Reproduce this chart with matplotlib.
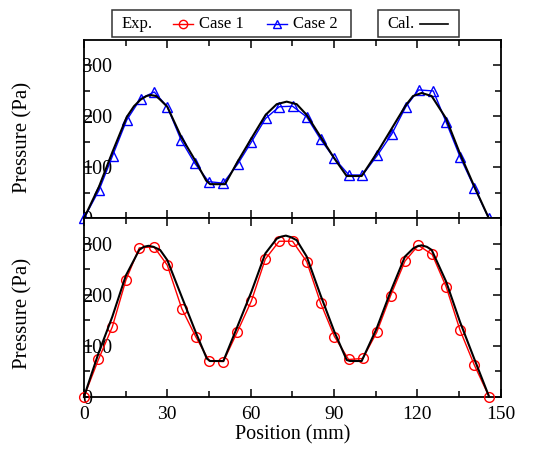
import matplotlib.pyplot as plt
from matplotlib.lines import Line2D
from matplotlib.patches import Rectangle

plt.rcParams['font.family'] = 'Liberation Serif'

# measured data, Case 2 (top panel)
x_case2 = [0, 5.4, 10.3, 15.4, 20.4, 25.3, 30.0, 35.0, 39.9, 44.9, 50.1, 55.3, 60.3, 65.4, 70.3,
           75.1, 80.2, 85.2, 90.1, 95.4, 100.3, 105.7, 110.8, 115.9, 120.5, 125.8, 130.4, 135.4, 140.6, 145.8]
y_case2 = [0, 55, 123, 193, 235, 248, 219, 153, 108, 72, 69, 106, 150, 196, 219,
           220, 199, 155, 118, 85, 85, 124, 165, 219, 252, 250, 189, 121, 60, 0]

# measured data, Case 1 (bottom panel)
x_case1 = [0, 5.2, 10.2, 15.1, 19.9, 25.2, 30.0, 35.2, 40.2, 45.1, 50.2, 55.2, 60.3, 65.3, 70.3,
           75.1, 80.2, 85.2, 90.2, 95.3, 100.4, 105.4, 110.4, 115.6, 120.4, 125.4, 130.4, 135.4, 140.5, 145.9]
y_case1 = [0, 73, 137, 229, 292, 294, 258, 173, 118, 70, 69, 127, 188, 270, 305,
           305, 265, 184, 118, 73, 75, 126, 198, 266, 297, 279, 216, 131, 63, 0]

# calculated curves
x_cal2 = [0, 5.4, 10.3, 15.4, 18, 20.4, 22.5, 24, 26, 27.4, 30, 35, 40, 44, 45.4, 50.8,
          55.3, 60.3, 65.4, 69.4, 73, 76.6, 80.2, 85.2, 90.1, 94.6, 100, 105.7, 110.8, 115.9,
          118.5, 121.6, 125.2, 130.4, 135.4, 140.6, 145.8]
y_cal2 = [0, 62, 131, 199, 220, 233, 240, 242, 240, 233, 219, 160, 114, 74, 67, 67,
          111, 157, 203, 224, 229, 224, 203, 160, 118, 83, 83, 130, 176, 222,
          240, 246, 240, 196, 127, 62, 0]

x_cal1 = [0, 5.2, 10.2, 15.1, 19.9, 21.5, 23.2, 25, 27.4, 30, 35.2, 40.2, 44.2, 45.4, 50.2,
          55.2, 60.3, 65.3, 69.4, 71, 72.7, 74.5, 76.6, 80.2, 85.2, 90.2, 94.6, 95.8, 100,
          105.4, 110.4, 115.6, 118.6, 120, 121.6, 123.5, 125.2, 130.4, 135.4, 140.5, 145.9]
y_cal1 = [0, 85, 157, 238, 288, 294, 296, 294, 288, 268, 196, 127, 75, 70, 70,
          137, 206, 281, 310, 314, 316, 313, 307, 275, 199, 127, 72, 70, 70,
          134, 206, 275, 291, 295, 297, 294, 288, 226, 147, 75, 0]

W, H = 539, 450
fig = plt.figure(figsize=(W / 100, H / 100), dpi=100)
left, right = 84 / W, 500.5 / W
y_top, y_mid, y_bot = 1 - 40 / H, 1 - 218.3 / H, 1 - 396.7 / H
ax1 = fig.add_axes([left, y_mid, right - left, y_top - y_mid])
ax2 = fig.add_axes([left, y_bot, right - left, y_mid - y_bot], sharex=ax1)

ax1.plot(x_case2, y_case2, color='blue', lw=1, marker='^', ms=7, mfc='none', mew=1, clip_on=False, zorder=3)
ax1.plot(x_cal2, y_cal2, color='black', lw=1.5, clip_on=False, zorder=4)
ax2.plot(x_case1, y_case1, color='red', lw=1, marker='o', ms=7, mfc='none', mew=1, clip_on=False, zorder=3)
ax2.plot(x_cal1, y_cal1, color='black', lw=1.5, clip_on=False, zorder=4)

for ax in (ax1, ax2):
    ax.set_xlim(0, 150)
    ax.set_ylim(0, 350)
    ax.set_xticks([0, 30, 60, 90, 120, 150])
    ax.set_xticks(range(15, 150, 30), minor=True)
    ax.set_yticks([0, 100, 200, 300])
    ax.set_yticks([50, 150, 250], minor=True)
    ax.tick_params(which='both', direction='in', top=True, right=True, width=1.1)
    ax.tick_params(which='major', length=6)
    ax.tick_params(which='minor', length=4)
    ax.tick_params(axis='y', labelsize=14.5, pad=1.5)
    for t in ax.get_yticklabels():
        t.set_ha('left')
    for s in ax.spines.values():
        s.set_linewidth(1.3)
    ax.set_ylabel('Pressure (Pa)', fontsize=15, va='center')

ax1.yaxis.set_label_coords(-0.146, 0.456)
ax2.yaxis.set_label_coords(-0.146, 0.469)

ax1.tick_params(axis='x', labelbottom=False)
ax2.tick_params(axis='x', labelsize=14, pad=7)
ax2.set_xlabel('Position (mm)', fontsize=14.5, labelpad=1)


def fx(px):
    return px / W


def fy(py):
    return 1 - py / H


# legend boxes drawn in figure coordinates
for x0, x1 in [(112, 350.7), (377.7, 459)]:
    fig.add_artist(Rectangle((fx(x0), fy(36.7)), fx(x1) - fx(x0), fy(10) - fy(36.7),
                             transform=fig.transFigure, fill=False, ec='#333333', lw=1.1))
ty = fy(24)
fig.text(fx(122), ty, 'Exp.', fontsize=12, va='center')
fig.add_artist(Line2D([fx(172.7), fx(193.3)], [ty, ty], transform=fig.transFigure, color='red', lw=1))
fig.add_artist(Line2D([fx(182.7)], [ty], transform=fig.transFigure, color='red', marker='o', ms=6, mfc='none'))
fig.text(fx(199), ty, 'Case 1', fontsize=12, va='center')
fig.add_artist(Line2D([fx(267.3), fx(287.3)], [ty, ty], transform=fig.transFigure, color='blue', lw=1))
fig.add_artist(Line2D([fx(277.3)], [ty], transform=fig.transFigure, color='blue', marker='^', ms=6, mfc='none'))
fig.text(fx(293.3), ty, 'Case 2', fontsize=12, va='center')
fig.text(fx(387), ty, 'Cal.', fontsize=12, va='center')
fig.add_artist(Line2D([fx(420), fx(448.3)], [ty, ty], transform=fig.transFigure, color='black', lw=1.2))

fig.savefig('out.png', dpi=100)
